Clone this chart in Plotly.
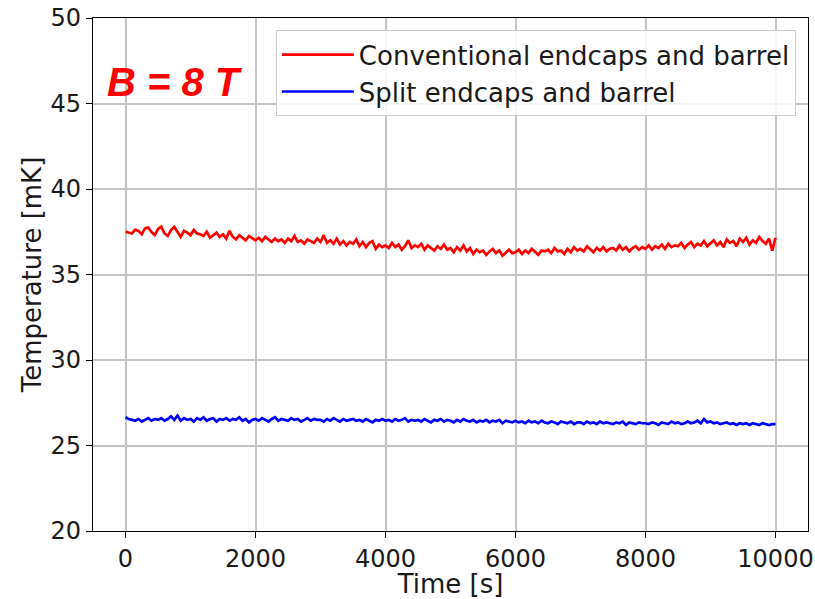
import plotly.graph_objects as go

time_s = list(range(0, 10001, 50))

conventional_mK = [
    37.50, 37.45, 37.40, 37.62, 37.55, 37.35, 37.70, 37.75, 37.48, 37.30,
    37.65, 37.80, 37.40, 37.25, 37.60, 37.78, 37.50, 37.20, 37.55, 37.45,
    37.30, 37.60, 37.40, 37.35, 37.25, 37.50, 37.15, 37.30, 37.45, 37.20,
    37.35, 37.10, 37.55, 37.20, 37.05, 37.30, 37.15, 37.00, 37.25, 37.10,
    37.00, 37.15, 36.95, 37.20, 37.05, 36.90, 37.10, 36.95, 37.05, 36.85,
    37.10, 36.95, 37.25, 36.90, 37.00, 36.80, 37.05, 36.95, 36.85, 37.10,
    36.90, 37.30, 36.85, 37.00, 36.80, 37.10, 36.75, 36.95, 36.70, 36.90,
    36.80, 37.05, 36.65, 36.90, 36.60, 36.85, 36.95, 36.50, 36.75, 36.60,
    36.70, 36.55, 36.85, 36.60, 36.75, 36.45, 36.65, 37.00, 36.55, 36.70,
    36.60, 36.80, 36.45, 36.70, 36.55, 36.40, 36.65, 36.50, 36.75, 36.45,
    36.55, 36.30, 36.60, 36.40, 36.70, 36.35, 36.55, 36.20, 36.45, 36.30,
    36.40, 36.15, 36.35, 36.50, 36.25, 36.40, 36.10, 36.30, 36.45, 36.25,
    36.30, 36.45, 36.20, 36.40, 36.25, 36.50, 36.30, 36.15, 36.40, 36.35,
    36.45, 36.25, 36.55, 36.35, 36.40, 36.20, 36.50, 36.30, 36.60, 36.40,
    36.50, 36.35, 36.65, 36.45, 36.30, 36.55, 36.40, 36.60, 36.35, 36.50,
    36.55, 36.40, 36.70, 36.45, 36.60, 36.35, 36.55, 36.65, 36.45, 36.60,
    36.50, 36.70, 36.45, 36.65, 36.55, 36.75, 36.50, 36.80, 36.60, 36.70,
    36.65, 36.85, 36.55, 36.75, 36.90, 36.60, 36.80, 36.70, 36.95, 36.65,
    36.80, 37.00, 36.70, 36.90, 36.60, 37.05, 36.85, 36.95, 36.65, 37.10,
    36.90, 37.15, 36.75, 37.00, 36.85, 37.20, 36.95, 36.80, 37.10, 36.40,
    37.15,
]

split_mK = [
    26.65, 26.55, 26.50, 26.45, 26.55, 26.40, 26.50, 26.60, 26.45, 26.55,
    26.50, 26.60, 26.45, 26.55, 26.70, 26.50, 26.75, 26.45, 26.60, 26.50,
    26.55, 26.40, 26.60, 26.50, 26.65, 26.45, 26.55, 26.60, 26.40, 26.55,
    26.50, 26.60, 26.45, 26.55, 26.50, 26.65, 26.45, 26.55, 26.35, 26.50,
    26.55, 26.45, 26.60, 26.50, 26.40, 26.55, 26.65, 26.45, 26.55, 26.50,
    26.45, 26.60, 26.50, 26.55, 26.40, 26.50, 26.60, 26.45, 26.55, 26.50,
    26.50, 26.40, 26.55, 26.45, 26.60, 26.50, 26.40, 26.55, 26.45, 26.50,
    26.55, 26.45, 26.50, 26.40, 26.55, 26.45, 26.35, 26.50, 26.45, 26.55,
    26.45, 26.50, 26.40, 26.55, 26.45, 26.50, 26.60, 26.40, 26.50, 26.45,
    26.50, 26.40, 26.55, 26.45, 26.35, 26.50, 26.45, 26.55, 26.40, 26.50,
    26.45, 26.35, 26.50, 26.40, 26.55, 26.45, 26.40, 26.50, 26.35, 26.45,
    26.40, 26.50, 26.35, 26.45, 26.40, 26.50, 26.30, 26.45, 26.40, 26.35,
    26.45, 26.35, 26.40, 26.30, 26.45, 26.35, 26.40, 26.30, 26.45, 26.35,
    26.30, 26.40, 26.35, 26.25, 26.40, 26.35, 26.30, 26.40, 26.25, 26.35,
    26.35, 26.25, 26.40, 26.30, 26.35, 26.25, 26.40, 26.30, 26.35, 26.30,
    26.25, 26.35, 26.30, 26.40, 26.20, 26.35, 26.30, 26.25, 26.35, 26.30,
    26.30, 26.25, 26.35, 26.30, 26.20, 26.35, 26.30, 26.25, 26.40, 26.30,
    26.35, 26.25, 26.30, 26.40, 26.30, 26.35, 26.45, 26.30, 26.55, 26.35,
    26.40, 26.30, 26.35, 26.25, 26.30, 26.35, 26.25, 26.30, 26.20, 26.30,
    26.25, 26.30, 26.20, 26.30, 26.25, 26.20, 26.30, 26.25, 26.20, 26.25,
    26.25,
]

x_ticks = [0, 2000, 4000, 6000, 8000, 10000]
x_tick_labels = ["0", "2000", "4000", "6000", "8000", "10000"]
y_ticks = [20, 25, 30, 35, 40, 45, 50]
y_tick_labels = ["20", "25", "30", "35", "40", "45", "50"]

FONT = "DejaVu Sans"
TXT = "#1a1a1a"

fig = go.Figure()
fig.add_trace(go.Scatter(x=time_s, y=conventional_mK, mode="lines",
                         name="Conventional endcaps and barrel", legendgroup="a",
                         line=dict(color="#ff0000", width=2.7)))
fig.add_trace(go.Scatter(x=time_s, y=split_mK, mode="lines",
                         name="Split endcaps and barrel", legendgroup="b",
                         line=dict(color="#0000ff", width=2.7)))

axis_common = dict(
    showline=True, linecolor="black", linewidth=1.3, mirror=True,
    ticks="outside", ticklen=6, tickwidth=1.3, tickcolor="black",
    showgrid=True, gridcolor="#c4c4c4", gridwidth=1.6,
    zeroline=False, tickfont=dict(family=FONT, size=24, color=TXT),
    automargin=False, ticklabeloverflow="allow",
)

fig.update_xaxes(range=[-500, 10500], tickvals=x_ticks, ticktext=x_tick_labels,
                 title=dict(text="Time [s]", font=dict(family=FONT, size=26, color=TXT), standoff=0),
                 **axis_common)
fig.update_yaxes(range=[20, 50], tickvals=y_ticks, ticktext=y_tick_labels,
                 title=dict(text="Temperature [mK]", font=dict(family=FONT, size=26, color=TXT), standoff=1),
                 **axis_common)

fig.add_annotation(x=0.115, y=0.875, xref="paper", yref="paper",
                   text="<b><i>B = 8 T</i></b>", showarrow=False,
                   font=dict(family="Liberation Sans", size=40, color="#ff0000"),
                   xanchor="center", yanchor="middle")

fig.update_layout(
    width=815, height=599,
    margin=dict(l=93, r=7, t=18, b=68),
    paper_bgcolor="white", plot_bgcolor="white",
    font=dict(family=FONT),
    showlegend=True,
    legend=dict(x=0.983, y=0.976, xanchor="right", yanchor="top",
                bgcolor="rgba(255,255,255,0.85)", bordercolor="#cccccc", borderwidth=1,
                font=dict(family=FONT, size=26, color=TXT),
                itemwidth=72, traceorder="grouped", tracegroupgap=0),
)

fig.write_html("out.html")
